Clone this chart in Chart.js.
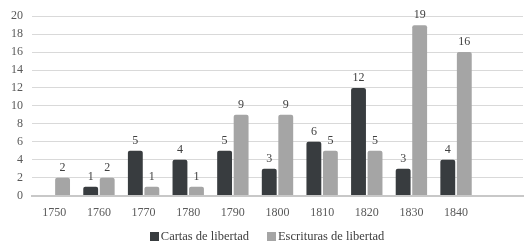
<!DOCTYPE html>
<html><head><meta charset="utf-8">
<script src="https://cdn.jsdelivr.net/npm/chart.js@4"></script>
<style>
html,body{margin:0;padding:0;background:#fff}
#w{position:relative;width:528px;height:249px}
#lg{position:absolute;left:0;top:228px;width:528px;display:flex;justify-content:center;padding-left:6px;box-sizing:border-box;font-family:'Liberation Serif','DejaVu Serif',serif;font-size:12.5px;color:#404040;line-height:16px}
#lg span.it{display:flex;align-items:center;margin:0 9px}
#lg i{display:inline-block;width:9px;height:9px;margin-right:2px}
</style>
</head><body><div id="w"><canvas id="c"></canvas><div id="lg"></div></div>
<script>
const categories = ['1750','1760','1770','1780','1790','1800','1810','1820','1830','1840',''];
const cartas = [0,1,5,4,5,3,6,12,3,4,null];
const escrituras = [2,2,1,1,9,9,5,5,19,16,null];
const yTicks = [0,2,4,6,8,10,12,14,16,18,20];
const seriesNames = ['Cartas de libertad','Escrituras de libertad'];
const FONT = "'Liberation Serif', 'DejaVu Serif', serif";

const valueLabels = {
  id:'valueLabels',
  afterDatasetsDraw(chart){
    const ctx = chart.ctx;
    ctx.save();
    ctx.font = '12px ' + FONT;
    ctx.fillStyle = '#404040';
    ctx.textAlign = 'center';
    ctx.textBaseline = 'bottom';
    chart.data.datasets.forEach((ds,i)=>{
      const meta = chart.getDatasetMeta(i);
      meta.data.forEach((bar,j)=>{
        const v = ds.data[j];
        if (v === null || v === 0) return;
        ctx.fillText(String(v), bar.x, bar.y - 4);
      });
    });
    ctx.restore();
  }
};

const chart = new Chart(document.getElementById('c'), {
  type:'bar',
  data:{
    labels: categories,
    datasets:[
      {label:seriesNames[0], data:cartas, backgroundColor:'#383c3f', categoryPercentage:0.74, barPercentage:0.9, borderRadius:{topLeft:2,topRight:2}},
      {label:seriesNames[1], data:escrituras, backgroundColor:'#a5a5a5', categoryPercentage:0.74, barPercentage:0.9, borderRadius:{topLeft:2,topRight:2}}
    ]
  },
  options:{
    responsive:true, maintainAspectRatio:false, animation:false,
    layout:{padding:{left:2,right:5,top:10,bottom:19}},
    plugins:{
      tooltip:{enabled:false},
      legend:{display:false}
    },
    scales:{
      x:{
        grid:{display:false, drawTicks:false},
        border:{color:'#c8c8c8', width:2},
        ticks:{color:'#595959', padding:10, font:{family:FONT, size:12}}
      },
      y:{
        min:0, max:20,
        afterBuildTicks(ax){ ax.ticks = yTicks.map(v=>({value:v})); },
        grid:{color:'#d9d9d9', drawTicks:false},
        border:{display:false},
        ticks:{color:'#595959', padding:9, autoSkip:false, font:{family:FONT, size:12}}
      }
    }
  },
  plugins:[valueLabels]
});

const lg = document.getElementById('lg');
chart.data.datasets.forEach(ds=>{
  const s = document.createElement('span'); s.className='it';
  const b = document.createElement('i'); b.style.background = ds.backgroundColor;
  s.appendChild(b); s.appendChild(document.createTextNode(ds.label));
  lg.appendChild(s);
});
</script>
</body></html>
